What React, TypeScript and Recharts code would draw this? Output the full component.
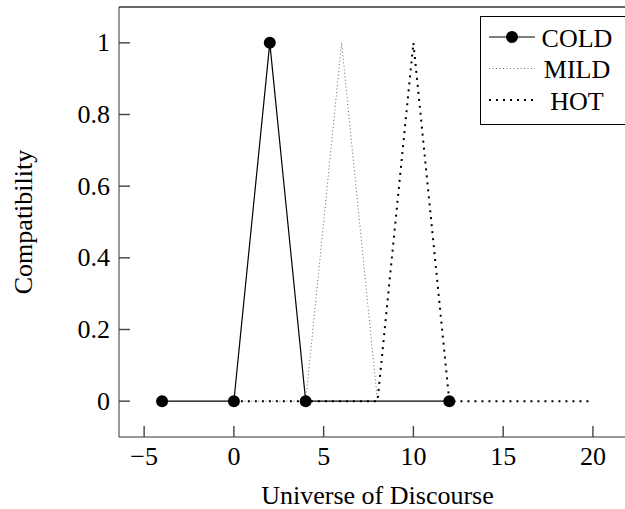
import React from 'react';
import { LineChart, Line, XAxis, YAxis, Legend, ReferenceLine } from 'recharts';

// fuzzy membership points
const coldX = [-4, 0, 2, 4, 12];
const coldY = [0, 0, 1, 0, 0];
const mildX = [0, 4, 6, 8, 12];
const mildY = [0, 0, 1, 0, 0];
const hotX = [0, 8, 10, 12, 20];
const hotY = [0, 0, 1, 0, 0];

const seriesNames = ['COLD', 'MILD', 'HOT'];
const xTicks = [-5, 0, 5, 10, 15, 20];
const yTicks = [0, 0.2, 0.4, 0.6, 0.8, 1];
const xDomain = [-6.4, 22.4];
const yDomain = [-0.1, 1.1];

const toPoints = (xs: number[], ys: number[]) => xs.map((x, i) => ({ x, y: ys[i] }));
const coldData = toPoints(coldX, coldY);
const mildData = toPoints(mildX, mildY);
const hotData = toPoints(hotX, hotY);

const FONT = '"Liberation Serif", "DejaVu Serif", serif';
const TICK_COLOR = '#444';
const TICK_W = 1.4;
const TICK_LEN = 11;
const GAP_X = 12;
const GAP_Y = 9;

const fmtY = (v: number) => (v === 0 || v === 1 ? String(v) : v.toFixed(1));
const fmtX = (v: number) => (v < 0 ? `\u2212${Math.abs(v)}` : String(v));

// label plus an inward tick mark
const BottomTick = ({ x, y, payload }: any) => {
  const ay = y - GAP_X;
  return (
    <g>
      <rect x={x - TICK_W / 2} y={ay - TICK_LEN} width={TICK_W} height={TICK_LEN} fill={TICK_COLOR} />
      <text x={x} y={y + 7} textAnchor="middle" dominantBaseline="central" fontFamily={FONT} fontSize={26} fill="#000">
        {fmtX(payload.value)}
      </text>
    </g>
  );
};

const TopTick = ({ x, y }: any) => (
  <rect x={x - TICK_W / 2} y={y} width={TICK_W} height={TICK_LEN} fill={TICK_COLOR} />
);

const LeftTick = ({ x, y, payload }: any) => {
  const ax = x + GAP_Y;
  return (
    <g>
      <rect x={ax} y={y - TICK_W / 2} width={TICK_LEN} height={TICK_W} fill={TICK_COLOR} />
      <text x={x} y={y} textAnchor="end" dominantBaseline="central" fontFamily={FONT} fontSize={26} fill="#000">
        {fmtY(payload.value)}
      </text>
    </g>
  );
};

const seriesStyle: Record<string, { dash?: string; width: number; color: string; marker: boolean }> = {
  COLD: { width: 1.2, color: '#000', marker: true },
  MILD: { dash: '1 2.5', width: 1, color: '#666', marker: false },
  HOT: { dash: '2 5', width: 2, color: '#000', marker: false },
};

const LegendBox = ({ payload }: any) => {
  const items = [...(payload || [])].sort(
    (a: any, b: any) => seriesNames.indexOf(a.value) - seriesNames.indexOf(b.value)
  );
  return (
    <svg width={150} height={110} style={{ display: 'block' }}>
      <rect x={0.5} y={0.5} width={149} height={108} fill="#fff" stroke="#000" strokeWidth={1} />
      {items.map((item: any, i: number) => {
        const s = seriesStyle[item.value];
        const cy = 21 + i * 31.5;
        return (
          <g key={item.value}>
            <line x1={9} x2={55} y1={cy} y2={cy} stroke={s.color} strokeWidth={s.width} strokeDasharray={s.dash} />
            {s.marker && <circle cx={32} cy={cy} r={6} fill="#000" />}
            <text x={97} y={cy + 1} textAnchor="middle" dominantBaseline="central" fontFamily={FONT} fontSize={26} fill="#000">
              {item.value}
            </text>
          </g>
        );
      })}
    </svg>
  );
};

export default function App() {
  return (
    <div style={{ position: 'absolute', left: 0, top: 0, width: 625, height: 509, overflow: 'hidden', background: '#fff' }}>
      <LineChart width={645} height={509} margin={{ top: 6, right: 9, bottom: 0, left: 0 }}>
        <XAxis
          xAxisId="top"
          orientation="top"
          type="number"
          domain={xDomain}
          ticks={xTicks}
          height={1}
          tickLine={false}
          tickSize={0}
          tickMargin={0}
          tick={<TopTick />}
          axisLine={{ stroke: '#333', strokeWidth: 1 }}
          allowDataOverflow
        />
        <XAxis
          type="number"
          dataKey="x"
          domain={xDomain}
          ticks={xTicks}
          height={72}
          tickLine={false}
          tickSize={0}
          tickMargin={GAP_X}
          tick={<BottomTick />}
          axisLine={{ stroke: '#333', strokeWidth: 1 }}
          allowDataOverflow
          label={{
            content: ({ viewBox }: any) => (
              <text
                x={viewBox.x + viewBox.width / 2}
                y={495}
                textAnchor="middle"
                dominantBaseline="central"
                fontFamily={FONT}
                fontSize={26}
                fill="#000"
              >
                Universe of Discourse
              </text>
            ),
          }}
        />
        <YAxis
          type="number"
          domain={yDomain}
          ticks={yTicks}
          width={119}
          tickLine={false}
          tickSize={0}
          tickMargin={GAP_Y}
          tick={<LeftTick />}
          axisLine={{ stroke: '#333', strokeWidth: 1 }}
          allowDataOverflow
          label={{
            content: ({ viewBox }: any) => {
              const cx = 23;
              const cy = viewBox.y + viewBox.height / 2;
              return (
                <text
                  x={cx}
                  y={cy}
                  transform={`rotate(-90 ${cx} ${cy})`}
                  textAnchor="middle"
                  dominantBaseline="central"
                  fontFamily={FONT}
                  fontSize={26}
                  fill="#000"
                >
                  Compatibility
                </text>
              );
            },
          }}
        />
        <ReferenceLine y={yDomain[1]} stroke="#333" strokeWidth={1} ifOverflow="visible" />
        <Legend
          content={<LegendBox />}
          layout="horizontal"
          align="center"
          verticalAlign="middle"
          wrapperStyle={{ position: 'absolute', left: 480, top: 16, width: 150, height: 110 }}
        />
        <Line
          name="COLD"
          data={coldData}
          dataKey="y"
          type="linear"
          stroke="#000"
          strokeWidth={1.2}
          dot={{ r: 6, fill: '#000', stroke: '#000', strokeWidth: 0 }}
          activeDot={false}
          isAnimationActive={false}
        />
        <Line
          name="MILD"
          data={mildData}
          dataKey="y"
          type="linear"
          stroke="#666"
          strokeWidth={1}
          strokeDasharray="1 2.5"
          dot={false}
          activeDot={false}
          isAnimationActive={false}
        />
        <Line
          name="HOT"
          data={hotData}
          dataKey="y"
          type="linear"
          stroke="#000"
          strokeWidth={2}
          strokeDasharray="2 5"
          dot={false}
          activeDot={false}
          isAnimationActive={false}
        />
      </LineChart>
    </div>
  );
}
